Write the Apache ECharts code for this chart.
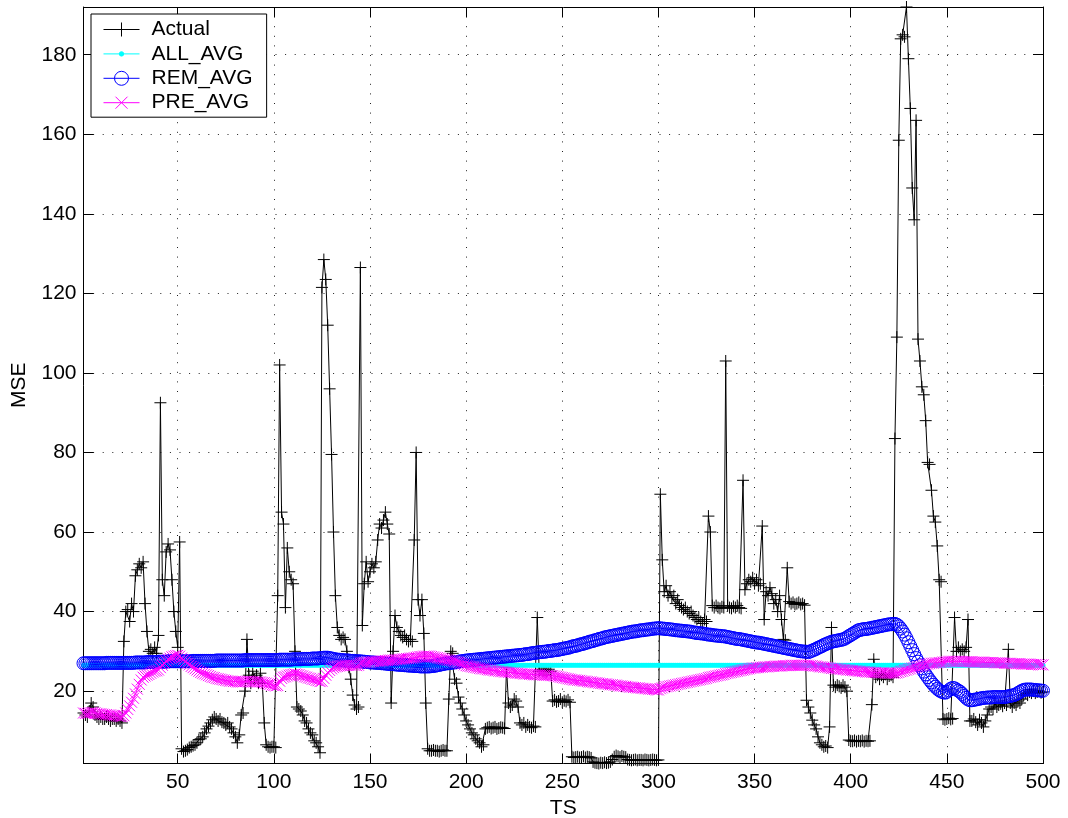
<!DOCTYPE html>
<html>
<head>
<meta charset="utf-8">
<title>MSE over TS</title>
<script src="https://cdn.jsdelivr.net/npm/echarts@6/dist/echarts.min.js"></script>
<style>
  html, body { margin: 0; padding: 0; background: #fff; }
  #chart { width: 1068px; height: 818px; }
</style>
</head>
<body>
<div id="chart"></div>
<script>
// Time steps 1..500
const TS = Array.from({ length: 500 }, (_, i) => i + 1);

const X_TICKS = [50, 100, 150, 200, 250, 300, 350, 400, 450, 500];
const Y_TICKS = [20, 40, 60, 80, 100, 120, 140, 160, 180];

// Observed MSE per time step
const ACTUAL = [
  14.5,14,13.5,15,17,16,14,13.5,13,13.5,13,13,13.5,13,12.5,13,13,12.5,13,12.5,12,32.5,40,40.5,37.5,
  42,40,49,50.5,52,51,52.5,42,35,30,30.5,29.5,31,29.5,34,92.5,48,44,55,57,55.5,48,40,35,31,
  57.5,5.5,4.8,5,5.3,5.8,6,6.3,6.5,7,7.8,8,8.5,9.5,10.5,11.2,12,12.8,13.5,13,12.5,13,12.2,12,11.5,
  12,11,10.5,9.5,8.5,7,9,14,14.5,20,33,24,22,25,23,24,22,24.5,22,12,6.5,6,5.8,6,6,
  5.8,44,102,65,62,41,56,50,48,47,30,16,15.5,15,14,12.5,12,10.5,9.5,9,7.5,7,6,4.5,121.5,
  128.5,123.5,112,96,79.5,60,44,36,34,33,33.5,33,30,26,23,19,16.5,15.5,16,126.5,36.5,47,52.5,47.5,50,
  52,51,52.5,58,62,61,63,65,62,59.5,17,30,39,36,35,34,33.5,34,33,32.5,33,32.5,58,80,43,
  39,43,34.5,17,5.5,5,5,5.2,5,5,4.8,5,5.2,5,5,18,30,29.5,23,22,18.5,17,15.5,14,12.5,
  11.5,10.5,9.5,9,8,7.5,7,6,6.5,10.5,10.8,11,10.6,10.8,11,10.5,10.7,10.9,10.8,10.6,26,17,16,16.5,18,
  17.5,16,12,11.5,12,11,11.5,11,10.8,11.2,11,38.5,25,25.5,25,25.3,25,25.5,25,17.5,17.8,17.3,17.5,18,17.2,
  17.6,17.4,17.8,17.2,3.5,3.3,3.4,3.5,3.3,3.4,3.6,3.3,3.5,3.4,3.2,2.2,2,1.9,1.8,2,1.9,2.1,1.9,2,2.2,
  2.8,3.5,3.8,3.6,3.4,3.7,3.5,3.4,2.8,2.7,2.6,2.7,2.8,2.6,2.7,2.7,2.6,2.8,2.7,2.6,2.7,2.8,2.7,2.6,2.7,
  69.5,53,45,46.5,44,45,43.5,44,42,43,41.5,41,40.5,41,40,39.5,40,39,38.5,38,38.5,37.5,37,38,37.5,
  64,60,41.5,41,41.5,41,40.8,41.2,41,103,41.5,41,40.8,41.3,41,41.5,41,40.8,73,45.5,47,48,47.5,48.5,47,
  48,46.5,47,61.5,38,45,44,46,44.5,42,43,40,44,38,33,32.8,51,42.5,42,42.3,41.8,42,42.3,41.8,42,
  41.6,17.7,16,14.5,12.7,11.5,10.5,8.5,7,6.5,6,6.2,5.8,11,36,21.5,21,21.5,21.2,20.8,21.5,21,20,7.7,7.5,
  7.4,7.6,7.3,7.5,7.4,7.6,7.3,7.5,7.4,7.5,16.6,28,23.5,24,23,24,23.5,24.2,23,23.8,24,23.5,83.5,109,158.5,
  184,185,184.5,192,179,166.5,146.5,138.5,163.5,108.5,103,96.5,94.5,88,77.5,77,70.5,64,62.5,56.5,48,47.5,13,12.8,13,
  13.2,12.9,13.1,38.5,30,31,30,30.5,30,31,38,12.5,12.5,13,12.2,11.5,12.8,12,11,12.5,14,15.5,16,15.5,17,
  16,16.5,16.8,16.2,17,16.5,30.5,17,16,17,16.5,17.5,17,18,19,19.5,19,19.8,19.5,20,19.5,19.8,20,19.6,19.8
];

// Average over all steps
const ALL_AVG = [
  26.5,26.5,26.5,26.5,26.5,26.5,26.5,26.5,26.5,26.5,26.5,26.5,26.5,26.5,26.5,26.5,26.5,26.5,26.5,26.5,26.5,26.5,26.5,26.5,26.5,
  26.5,26.5,26.5,26.5,26.5,26.5,26.5,26.5,26.5,26.5,26.5,26.5,26.5,26.5,26.5,26.5,26.5,26.5,26.5,26.5,26.5,26.5,26.5,26.5,26.5,
  26.5,26.5,26.5,26.5,26.5,26.5,26.5,26.5,26.5,26.5,26.5,26.5,26.5,26.5,26.5,26.5,26.5,26.5,26.5,26.5,26.5,26.5,26.5,26.5,26.5,
  26.5,26.5,26.5,26.5,26.5,26.5,26.5,26.5,26.5,26.5,26.5,26.5,26.5,26.5,26.5,26.5,26.5,26.5,26.5,26.5,26.5,26.5,26.5,26.5,26.5,
  26.5,26.5,26.5,26.5,26.5,26.5,26.5,26.5,26.5,26.5,26.5,26.5,26.5,26.5,26.5,26.5,26.5,26.5,26.5,26.5,26.5,26.5,26.5,26.5,26.5,
  26.5,26.5,26.5,26.5,26.5,26.5,26.5,26.5,26.5,26.5,26.5,26.5,26.5,26.5,26.5,26.5,26.5,26.5,26.5,26.5,26.5,26.5,26.5,26.5,26.5,
  26.5,26.5,26.5,26.5,26.5,26.5,26.5,26.5,26.5,26.5,26.5,26.5,26.5,26.5,26.5,26.5,26.5,26.5,26.5,26.5,26.5,26.5,26.5,26.5,26.5,
  26.5,26.5,26.5,26.5,26.5,26.5,26.5,26.5,26.5,26.5,26.5,26.5,26.5,26.5,26.5,26.5,26.5,26.5,26.5,26.5,26.5,26.5,26.5,26.5,26.5,
  26.5,26.5,26.5,26.5,26.5,26.5,26.5,26.5,26.5,26.5,26.5,26.5,26.5,26.5,26.5,26.5,26.5,26.5,26.5,26.5,26.5,26.5,26.5,26.5,26.5,
  26.5,26.5,26.5,26.5,26.5,26.5,26.5,26.5,26.5,26.5,26.5,26.5,26.5,26.5,26.5,26.5,26.5,26.5,26.5,26.5,26.5,26.5,26.5,26.5,26.5,
  26.5,26.5,26.5,26.5,26.5,26.5,26.5,26.5,26.5,26.5,26.5,26.5,26.5,26.5,26.5,26.5,26.5,26.5,26.5,26.5,26.5,26.5,26.5,26.5,26.5,
  26.5,26.5,26.5,26.5,26.5,26.5,26.5,26.5,26.5,26.5,26.5,26.5,26.5,26.5,26.5,26.5,26.5,26.5,26.5,26.5,26.5,26.5,26.5,26.5,26.5,
  26.5,26.5,26.5,26.5,26.5,26.5,26.5,26.5,26.5,26.5,26.5,26.5,26.5,26.5,26.5,26.5,26.5,26.5,26.5,26.5,26.5,26.5,26.5,26.5,26.5,
  26.5,26.5,26.5,26.5,26.5,26.5,26.5,26.5,26.5,26.5,26.5,26.5,26.5,26.5,26.5,26.5,26.5,26.5,26.5,26.5,26.5,26.5,26.5,26.5,26.5,
  26.5,26.5,26.5,26.5,26.5,26.5,26.5,26.5,26.5,26.5,26.5,26.5,26.5,26.5,26.5,26.5,26.5,26.5,26.5,26.5,26.5,26.5,26.5,26.5,26.5,
  26.5,26.5,26.5,26.5,26.5,26.5,26.5,26.5,26.5,26.5,26.5,26.5,26.5,26.5,26.5,26.5,26.5,26.5,26.5,26.5,26.5,26.5,26.5,26.5,26.5,
  26.5,26.5,26.5,26.5,26.5,26.5,26.5,26.5,26.5,26.5,26.5,26.5,26.5,26.5,26.5,26.5,26.5,26.5,26.5,26.5,26.5,26.5,26.5,26.5,26.5,
  26.5,26.5,26.5,26.5,26.5,26.5,26.5,26.5,26.5,26.5,26.5,26.5,26.5,26.5,26.5,26.5,26.5,26.5,26.5,26.5,26.5,26.5,26.5,26.5,26.5,
  26.5,26.5,26.5,26.5,26.5,26.5,26.5,26.5,26.5,26.5,26.5,26.5,26.5,26.5,26.5,26.5,26.5,26.5,26.5,26.5,26.5,26.5,26.5,26.5,26.5,
  26.5,26.5,26.5,26.5,26.5,26.5,26.5,26.5,26.5,26.5,26.5,26.5,26.5,26.5,26.5,26.5,26.5,26.5,26.5,26.5,26.5,26.5,26.5,26.5,26.5
];

// Average over the remaining steps
const REM_AVG = [
  27.0,27.0,27.0,27.0,27.0,27.0,27.0,27.0,27.0,27.0,27.0,27.0,27.1,27.1,27.1,27.1,27.1,27.1,27.1,27.1,27.1,27.1,27.1,27.1,27.1,
  27.1,27.1,27.2,27.2,27.2,27.2,27.2,27.2,27.3,27.3,27.3,27.3,27.3,27.3,27.4,27.4,27.4,27.4,27.4,27.5,27.5,27.5,27.5,27.5,27.5,
  27.5,27.5,27.5,27.5,27.5,27.5,27.5,27.6,27.6,27.6,27.6,27.6,27.6,27.6,27.6,27.6,27.6,27.6,27.6,27.7,27.7,27.7,27.7,27.7,27.7,
  27.7,27.7,27.7,27.7,27.7,27.7,27.7,27.7,27.7,27.8,27.8,27.8,27.8,27.8,27.8,27.8,27.8,27.8,27.8,27.8,27.8,27.8,27.8,27.8,27.8,
  27.8,27.8,27.9,27.9,27.9,27.9,27.9,27.9,27.9,28.0,28.0,28.0,28.0,28.0,28.1,28.1,28.1,28.1,28.1,28.2,28.2,28.2,28.2,28.3,28.3,
  28.4,28.4,28.4,28.3,28.2,28.1,28.0,27.9,27.9,27.8,27.8,27.7,27.7,27.7,27.6,27.6,27.6,27.5,27.5,27.5,27.4,27.4,27.3,27.3,27.2,
  27.2,27.2,27.1,27.1,27.1,27.0,27.0,26.9,26.9,26.8,26.8,26.8,26.7,26.7,26.6,26.6,26.6,26.5,26.5,26.4,26.4,26.4,26.3,26.3,26.3,
  26.2,26.2,26.2,26.2,26.2,26.2,26.3,26.3,26.4,26.5,26.6,26.7,26.8,26.9,27.0,27.0,27.1,27.2,27.2,27.3,27.4,27.5,27.5,27.6,27.7,
  27.7,27.8,27.8,27.9,27.9,28.0,28.0,28.1,28.1,28.2,28.2,28.3,28.3,28.4,28.4,28.5,28.5,28.6,28.6,28.7,28.7,28.8,28.8,28.9,28.9,
  29.0,29.0,29.1,29.1,29.2,29.3,29.3,29.4,29.5,29.6,29.6,29.7,29.8,29.8,29.9,29.9,30.0,30.1,30.1,30.2,30.3,30.3,30.4,30.5,30.6,
  30.7,30.8,30.9,31.0,31.2,31.3,31.4,31.5,31.7,31.8,31.9,32.1,32.2,32.4,32.5,32.6,32.8,32.9,33.1,33.2,33.3,33.5,33.6,33.7,33.8,
  33.9,34.0,34.1,34.2,34.3,34.4,34.5,34.6,34.7,34.8,34.9,35.0,35.0,35.1,35.2,35.3,35.3,35.4,35.5,35.5,35.6,35.7,35.7,35.8,35.8,
  35.8,35.7,35.7,35.6,35.6,35.5,35.5,35.4,35.3,35.3,35.2,35.2,35.1,35.1,35.0,35.0,34.9,34.8,34.7,34.6,34.6,34.5,34.5,34.4,34.3,
  34.2,34.2,34.1,34.0,34.0,33.9,33.9,33.8,33.8,33.7,33.6,33.5,33.4,33.3,33.2,33.1,33.1,33.0,32.9,32.8,32.7,32.6,32.5,32.4,32.3,
  32.2,32.2,32.1,32.0,31.9,31.8,31.7,31.6,31.5,31.4,31.3,31.2,31.1,31.0,30.9,30.8,30.7,30.6,30.5,30.4,30.3,30.2,30.1,30.0,30.0,
  29.9,29.9,29.8,30.0,30.2,30.4,30.6,30.9,31.1,31.3,31.6,31.8,32.0,32.2,32.4,32.5,32.6,32.7,32.8,32.9,33.0,33.2,33.5,33.8,34.1,
  34.4,34.7,35.0,35.3,35.4,35.5,35.6,35.6,35.7,35.8,35.9,36.0,36.1,36.2,36.3,36.4,36.5,36.6,36.7,36.8,36.8,36.9,36.9,36.7,36.3,
  35.7,35.0,34.2,33.3,32.3,31.3,30.3,29.3,28.3,27.4,26.5,25.7,24.9,24.2,23.5,22.8,22.2,21.6,21.1,20.6,20.2,19.9,19.7,19.6,19.8,
  20.2,20.6,20.8,20.7,20.4,20.1,19.8,19.3,18.8,18.3,17.9,17.7,17.7,17.8,17.9,18.0,18.1,18.2,18.3,18.3,18.4,18.4,18.4,18.5,18.5,
  18.5,18.5,18.5,18.5,18.5,18.6,18.7,18.8,18.9,19.0,19.2,19.5,19.8,20.1,20.3,20.4,20.4,20.4,20.4,20.3,20.3,20.2,20.2,20.1,20.1
];

// Average over the previous steps
const PRE_AVG = [
  14.5,14.4,14.4,14.5,14.6,14.6,14.5,14.4,14.3,14.3,14.2,14.1,14.1,14.0,14.0,13.9,13.8,13.8,13.7,13.6,13.6,13.8,14.5,15.4,16.3,
  17.2,18.2,19.3,20.5,21.7,22.8,23.5,23.8,24.0,24.2,24.5,24.8,25.0,25.1,25.3,25.9,26.5,27.0,27.6,28.0,28.3,28.6,28.8,28.9,29.0,
  28.8,28.3,27.9,27.4,27.0,26.6,26.2,25.9,25.6,25.3,25.0,24.7,24.5,24.3,24.1,23.9,23.7,23.5,23.4,23.2,23.1,23.0,22.9,22.8,22.7,
  22.6,22.5,22.5,22.4,22.4,22.3,22.3,22.3,22.3,22.4,22.5,22.5,22.4,22.4,22.4,22.3,22.3,22.3,22.2,22.1,22.0,21.8,21.7,21.5,21.4,
  21.3,21.4,22.5,23.2,23.5,23.6,23.8,24.0,24.1,24.2,24.3,24.2,24.1,23.9,23.8,23.6,23.5,23.3,23.2,23.0,22.9,22.7,22.6,22.4,22.5,
  23.2,24.0,24.7,25.2,25.6,25.9,26.1,26.2,26.3,26.4,26.4,26.5,26.5,26.5,26.5,26.5,26.5,26.4,26.5,27.0,27.1,27.2,27.2,27.3,27.3,
  27.4,27.4,27.5,27.5,27.5,27.6,27.6,27.7,27.7,27.8,27.8,27.8,27.9,27.9,28.0,28.0,28.1,28.1,28.2,28.2,28.3,28.3,28.4,28.5,28.6,
  28.7,28.7,28.8,28.8,28.8,28.8,28.7,28.6,28.5,28.4,28.3,28.2,28.1,28.0,27.9,27.8,27.7,27.6,27.5,27.3,27.2,27.0,26.8,26.6,26.4,
  26.3,26.2,26.1,26.0,25.9,25.8,25.7,25.6,25.6,25.5,25.4,25.3,25.3,25.2,25.1,25.1,25.0,24.9,24.9,24.8,24.8,24.7,24.7,24.6,24.6,
  24.5,24.5,24.4,24.4,24.3,24.3,24.3,24.2,24.2,24.1,24.1,24.1,24.1,24.1,24.0,24.0,24.0,24.0,23.9,23.9,23.8,23.7,23.6,23.5,23.4,
  23.3,23.2,23.1,23.0,22.9,22.8,22.8,22.7,22.7,22.6,22.5,22.5,22.4,22.3,22.3,22.2,22.1,22.1,22.0,21.9,21.9,21.8,21.8,21.7,21.6,
  21.6,21.5,21.5,21.4,21.3,21.3,21.2,21.2,21.1,21.0,21.0,20.9,20.9,20.8,20.8,20.7,20.7,20.6,20.6,20.5,20.5,20.4,20.4,20.3,20.3,
  20.6,20.8,21.0,21.1,21.2,21.3,21.4,21.5,21.6,21.7,21.8,21.9,22.0,22.1,22.2,22.3,22.4,22.5,22.6,22.7,22.8,22.9,23.0,23.1,23.2,
  23.4,23.5,23.6,23.7,23.8,23.9,24.0,24.1,24.2,24.4,24.5,24.6,24.7,24.8,24.9,25.0,25.1,25.2,25.3,25.4,25.5,25.6,25.7,25.8,25.8,
  25.9,25.9,26.0,26.0,26.1,26.1,26.1,26.2,26.2,26.2,26.3,26.3,26.3,26.3,26.4,26.4,26.4,26.4,26.5,26.5,26.5,26.5,26.5,26.5,26.5,
  26.5,26.5,26.5,26.4,26.4,26.3,26.3,26.2,26.1,26.1,26.0,26.0,25.9,25.8,25.7,25.7,25.6,25.6,25.5,25.5,25.4,25.4,25.3,25.3,25.2,
  25.2,25.1,25.1,25.0,25.0,24.9,24.9,24.8,24.8,24.8,24.7,24.7,24.7,24.6,24.6,24.6,24.6,24.5,24.5,24.5,24.5,24.5,24.5,24.6,24.7,
  24.9,25.0,25.2,25.3,25.5,25.6,25.8,25.9,26.0,26.2,26.3,26.4,26.5,26.7,26.8,26.9,27.0,27.0,27.1,27.1,27.2,27.2,27.3,27.3,27.4,
  27.5,27.5,27.5,27.5,27.5,27.5,27.5,27.4,27.4,27.4,27.4,27.4,27.4,27.3,27.3,27.3,27.3,27.3,27.3,27.2,27.2,27.2,27.2,27.2,27.1,
  27.1,27.1,27.1,27.1,27.0,27.0,27.0,27.0,26.9,26.9,26.9,26.9,26.9,26.8,26.8,26.8,26.8,26.8,26.7,26.7,26.7,26.7,26.6,26.6,26.6
];

const FONT = "'Liberation Sans', Arial, Helvetica, sans-serif";

// Axis limits hug the data (tight axes)
const xMin = TS[0];
const xMax = TS[TS.length - 1];
const yMin = Math.min(...ACTUAL);
const yMax = Math.max(...ACTUAL);

// Marker shapes
const PLUS = 'path://M5,0L5,10M0,5L10,5';
const CROSS = 'path://M0,0L10,10M10,0L0,10';

// Legend samples: a short line with the series marker in the middle
const ICON_ACTUAL = 'path://M0,0M43,15M0,7.5L36,7.5M18,0.5L18,14.5M11,7.5L25,7.5';
const ICON_ALL = 'path://M0,0M43,15M0,7.5L36,7.5M15.8,7.5a2.2,2.2 0 1,0 4.4,0a2.2,2.2 0 1,0 -4.4,0Z';
const ICON_REM = 'path://M0,0M43,15M0,7.5L36,7.5M11,7.5a7,7 0 1,0 14,0a7,7 0 1,0 -14,0';
const ICON_PRE = 'path://M0,0M43,15M0,7.5L36,7.5M12,1.5L24,13.5M24,1.5L12,13.5';

const pairs = (vals) => TS.map((t, i) => [t, vals[i]]);

const tickStyle = { color: '#000', width: 1 };
const gridDots = { color: '#222', width: 1, type: [1, 8.6] };

function xAxisDef(pos, main) {
  return {
    type: 'value', position: pos, min: xMin, max: xMax,
    name: main ? 'TS' : '', nameLocation: 'middle', nameGap: 31,
    nameTextStyle: { fontSize: 21, color: '#000', fontFamily: FONT },
    axisLine: { show: true, onZero: false, lineStyle: { color: '#000', width: 1 } },
    axisTick: { show: true, inside: true, length: 10, customValues: X_TICKS, lineStyle: tickStyle },
    axisLabel: { show: main, customValues: X_TICKS, margin: 8, fontSize: 21, color: '#000', fontFamily: FONT },
    splitLine: { show: main, lineStyle: gridDots }
  };
}
function yAxisDef(pos, main) {
  return {
    type: 'value', position: pos, min: yMin, max: yMax,
    name: main ? 'MSE' : '', nameLocation: 'middle', nameGap: 53.5,
    nameTextStyle: { fontSize: 21, color: '#000', fontFamily: FONT },
    axisLine: { show: true, onZero: false, lineStyle: { color: '#000', width: 1 } },
    axisTick: { show: true, inside: true, length: 10, customValues: Y_TICKS, lineStyle: tickStyle },
    axisLabel: { show: main, customValues: Y_TICKS, margin: 7, fontSize: 21, color: '#000', fontFamily: FONT },
    splitLine: { show: main, lineStyle: gridDots }
  };
}

const common = {
  type: 'line', showAllSymbol: true, animation: false, silent: true,
  emphasis: { disabled: true }
};

const chart = echarts.init(document.getElementById('chart'), null, { renderer: 'canvas' });
chart.setOption({
  backgroundColor: '#fff',
  animation: false,
  textStyle: { fontFamily: FONT },
  grid: { left: 83.5, right: 25, top: 7, bottom: 54.5, containLabel: false, outerBoundsMode: 'none' },
  xAxis: [xAxisDef('bottom', true), xAxisDef('top', false)],
  yAxis: [yAxisDef('left', true), yAxisDef('right', false)],
  legend: {
    left: 91, top: 14, orient: 'vertical',
    padding: [5, 14, 4, 12],
    itemWidth: 43, itemHeight: 15, itemGap: 3.4,
    backgroundColor: '#fff', borderColor: '#000', borderWidth: 1,
    selectedMode: false,
    textStyle: { fontSize: 21, color: '#000', fontFamily: FONT },
    data: [
      { name: 'Actual', icon: ICON_ACTUAL, itemStyle: { color: '#000', borderColor: '#000', borderWidth: 1 } },
      { name: 'ALL_AVG', icon: ICON_ALL, itemStyle: { color: '#00ffff', borderColor: '#00ffff', borderWidth: 1 } },
      { name: 'REM_AVG', icon: ICON_REM, itemStyle: { color: 'rgba(0,0,0,0)', borderColor: '#0000ff', borderWidth: 1 } },
      { name: 'PRE_AVG', icon: ICON_PRE, itemStyle: { color: '#ff00ff', borderColor: '#ff00ff', borderWidth: 1 } }
    ]
  },
  series: [
    Object.assign({}, common, {
      name: 'Actual', data: pairs(ACTUAL),
      symbol: PLUS, symbolSize: 12,
      lineStyle: { color: '#000', width: 1 },
      itemStyle: { color: '#000', borderColor: '#000', borderWidth: 1 }
    }),
    Object.assign({}, common, {
      name: 'ALL_AVG', data: pairs(ALL_AVG),
      symbol: 'circle', symbolSize: 5,
      lineStyle: { color: '#00ffff', width: 1 },
      itemStyle: { color: '#00ffff', borderWidth: 0 }
    }),
    Object.assign({}, common, {
      name: 'REM_AVG', data: pairs(REM_AVG),
      symbol: 'circle', symbolSize: 13,
      lineStyle: { color: '#0000ff', width: 1 },
      itemStyle: { color: 'rgba(0,0,0,0)', borderColor: '#0000ff', borderWidth: 1 }
    }),
    Object.assign({}, common, {
      name: 'PRE_AVG', data: pairs(PRE_AVG),
      symbol: CROSS, symbolSize: 11,
      lineStyle: { color: '#ff00ff', width: 1 },
      itemStyle: { color: '#ff00ff', borderColor: '#ff00ff', borderWidth: 1 }
    })
  ]
});
</script>
</body>
</html>
